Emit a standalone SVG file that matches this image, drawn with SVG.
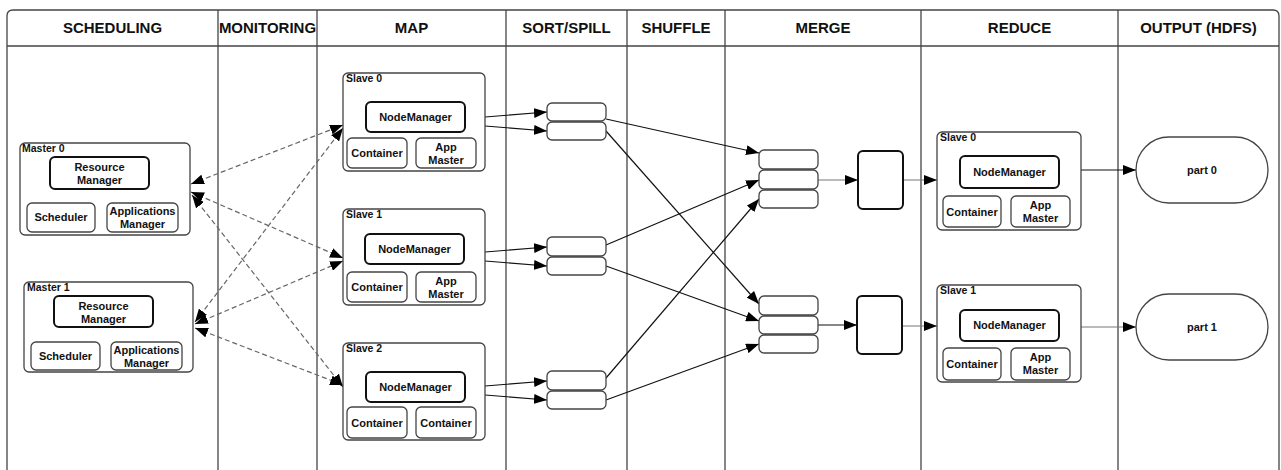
<svg xmlns="http://www.w3.org/2000/svg" width="1281" height="470" viewBox="0 0 1281 470">
  <style>
    .frame { fill: none; stroke: #444; stroke-width: 1.3; }
    .hdr { font-family: "Liberation Sans", Arial, sans-serif; font-weight: bold; font-size: 15px; fill: #111; text-anchor: middle; }
    .box { fill: #fff; stroke: #444; stroke-width: 1.3; }
    .inner { fill: #fff; stroke: #444; stroke-width: 1.3; }
    .strong { fill: #fff; stroke: #111; stroke-width: 2; }
    .lbl { font-family: "Liberation Sans", Arial, sans-serif; font-weight: bold; font-size: 11px; fill: #111; text-anchor: middle; }
    .cap { font-family: "Liberation Sans", Arial, sans-serif; font-weight: bold; font-size: 10.5px; fill: #111; }
    .dash { fill: none; stroke: #666; stroke-width: 1.2; stroke-dasharray: 5 3; marker-start: url(#arrow); marker-end: url(#arrow); }
    .solid { fill: none; stroke: #111; stroke-width: 1.2; marker-end: url(#arrow); }
    .thin { fill: none; stroke: #777; stroke-width: 1; marker-end: url(#arrow); }
  </style>
  <defs>
    <marker id="arrow" viewBox="0 0 13 10" refX="13" refY="5" markerWidth="13" markerHeight="10" markerUnits="userSpaceOnUse" orient="auto-start-reverse">
      <path d="M0,0 L13,5 L0,10 z" fill="#000"/>
    </marker>
  </defs>

  <rect width="1281" height="470" fill="#fff"/>

  <!-- swimlane frame and headers -->
  <g id="lanes">
    <path class="frame" d="M7,470 V16 Q7,10 13,10 H1273 Q1279,10 1279,16 V470"/>
    <line class="frame" x1="7" y1="46" x2="1279" y2="46"/>
    <line class="frame" x1="218" y1="10" x2="218" y2="470"/>
    <line class="frame" x1="317" y1="10" x2="317" y2="470"/>
    <line class="frame" x1="506" y1="10" x2="506" y2="470"/>
    <line class="frame" x1="627" y1="10" x2="627" y2="470"/>
    <line class="frame" x1="725" y1="10" x2="725" y2="470"/>
    <line class="frame" x1="921" y1="10" x2="921" y2="470"/>
    <line class="frame" x1="1118" y1="10" x2="1118" y2="470"/>
    <text class="hdr" x="112.5" y="33">SCHEDULING</text>
    <text class="hdr" x="267.5" y="33">MONITORING</text>
    <text class="hdr" x="411.5" y="33">MAP</text>
    <text class="hdr" x="566.5" y="33">SORT/SPILL</text>
    <text class="hdr" x="676" y="33">SHUFFLE</text>
    <text class="hdr" x="823" y="33">MERGE</text>
    <text class="hdr" x="1019.5" y="33">REDUCE</text>
    <text class="hdr" x="1198.5" y="33">OUTPUT (HDFS)</text>
  </g>

  <!-- connectors -->
  <g id="connectors">
    <!-- masters <-> map slaves -->
    <line class="dash" x1="191" y1="184" x2="343" y2="125"/>
    <line class="dash" x1="191" y1="192" x2="343" y2="258"/>
    <line class="dash" x1="192" y1="195" x2="343" y2="387"/>
    <line class="dash" x1="195" y1="322" x2="343" y2="128"/>
    <line class="dash" x1="195" y1="324" x2="343" y2="261"/>
    <line class="dash" x1="195" y1="328" x2="343" y2="385"/>
    <!-- map -> sort/spill -->
    <line class="solid" x1="485" y1="117" x2="547" y2="112"/>
    <line class="solid" x1="485" y1="126" x2="547" y2="131"/>
    <line class="solid" x1="485" y1="252" x2="547" y2="247"/>
    <line class="solid" x1="485" y1="261" x2="547" y2="266"/>
    <line class="solid" x1="485" y1="386" x2="547" y2="381"/>
    <line class="solid" x1="485" y1="395" x2="547" y2="400"/>
    <!-- shuffle to merge -->
    <line class="solid" x1="606" y1="119" x2="759" y2="153"/>
    <line class="solid" x1="606" y1="131" x2="759" y2="304"/>
    <line class="solid" x1="606" y1="245" x2="759" y2="180"/>
    <line class="solid" x1="606" y1="266" x2="759" y2="321"/>
    <line class="solid" x1="606" y1="378" x2="759" y2="199"/>
    <line class="solid" x1="606" y1="400" x2="759" y2="344"/>
    <!-- merge -> sort buffers -> reduce -->
    <line class="thin" x1="818" y1="180" x2="858" y2="180"/>
    <line class="thin" x1="903" y1="180" x2="937" y2="180"/>
    <line class="solid" x1="818" y1="325" x2="857" y2="325"/>
    <line class="thin" x1="902" y1="326" x2="937" y2="326"/>
    <!-- reduce -> output -->
    <line class="solid" x1="1081" y1="170" x2="1136" y2="170"/>
    <line class="thin" x1="1081" y1="327" x2="1136" y2="327"/>
  </g>

  <!-- scheduling -->
  <g id="master0">
    <rect class="box" x="20" y="143" width="170" height="92" rx="5"/>
    <text class="cap" x="22" y="152">Master 0</text>
    <rect class="strong" x="50" y="157" width="99" height="32" rx="5"/>
    <text class="lbl" x="99.5" y="171">Resource</text>
    <text class="lbl" x="99.5" y="184">Manager</text>
    <rect class="inner" x="27" y="203" width="68" height="29" rx="5"/>
    <text class="lbl" x="61" y="221">Scheduler</text>
    <rect class="inner" x="107" y="203" width="71" height="29" rx="5"/>
    <text class="lbl" x="142.5" y="215">Applications</text>
    <text class="lbl" x="142.5" y="228">Manager</text>
  </g>
  <g id="master1">
    <rect class="box" x="24" y="282" width="169" height="90" rx="5"/>
    <text class="cap" x="27" y="291">Master 1</text>
    <rect class="strong" x="54" y="296" width="99" height="31" rx="5"/>
    <text class="lbl" x="103.5" y="310">Resource</text>
    <text class="lbl" x="103.5" y="323">Manager</text>
    <rect class="inner" x="31" y="342" width="69" height="28" rx="5"/>
    <text class="lbl" x="65.5" y="360">Scheduler</text>
    <rect class="inner" x="111" y="342" width="71" height="28" rx="5"/>
    <text class="lbl" x="146.5" y="354">Applications</text>
    <text class="lbl" x="146.5" y="367">Manager</text>
  </g>

  <!-- map -->
  <g id="map-slave0">
    <rect class="box" x="343" y="73" width="142" height="98" rx="5"/>
    <text class="cap" x="346" y="82">Slave 0</text>
    <rect class="strong" x="366" y="102" width="99" height="30" rx="5"/>
    <text class="lbl" x="415.5" y="121">NodeManager</text>
    <rect class="inner" x="347" y="138" width="60" height="30" rx="5"/>
    <text class="lbl" x="377" y="157">Container</text>
    <rect class="inner" x="416" y="138" width="60" height="30" rx="5"/>
    <text class="lbl" x="446" y="151">App</text>
    <text class="lbl" x="446" y="164">Master</text>
  </g>
  <g id="map-slave1">
    <rect class="box" x="343" y="209" width="142" height="96" rx="5"/>
    <text class="cap" x="346" y="218">Slave 1</text>
    <rect class="strong" x="365" y="234" width="99" height="30" rx="5"/>
    <text class="lbl" x="414.5" y="253">NodeManager</text>
    <rect class="inner" x="347" y="272" width="60" height="30" rx="5"/>
    <text class="lbl" x="377" y="291">Container</text>
    <rect class="inner" x="416" y="272" width="60" height="30" rx="5"/>
    <text class="lbl" x="446" y="285">App</text>
    <text class="lbl" x="446" y="298">Master</text>
  </g>
  <g id="map-slave2">
    <rect class="box" x="343" y="343" width="142" height="97" rx="5"/>
    <text class="cap" x="346" y="352">Slave 2</text>
    <rect class="strong" x="366" y="372" width="99" height="30" rx="5"/>
    <text class="lbl" x="415.5" y="391">NodeManager</text>
    <rect class="inner" x="347" y="407" width="60" height="31" rx="5"/>
    <text class="lbl" x="377" y="427">Container</text>
    <rect class="inner" x="416" y="407" width="60" height="31" rx="5"/>
    <text class="lbl" x="446" y="427">Container</text>
  </g>

  <!-- sort/spill buffers -->
  <g id="spill0">
    <rect class="inner" x="547" y="103" width="59" height="18" rx="5"/>
    <rect class="inner" x="547" y="122" width="59" height="18" rx="5"/>
  </g>
  <g id="spill1">
    <rect class="inner" x="547" y="237" width="59" height="19" rx="5"/>
    <rect class="inner" x="547" y="257" width="59" height="18" rx="5"/>
  </g>
  <g id="spill2">
    <rect class="inner" x="547" y="371" width="59" height="19" rx="5"/>
    <rect class="inner" x="547" y="391" width="59" height="18" rx="5"/>
  </g>

  <!-- merge -->
  <g id="merge0">
    <rect class="inner" x="759" y="150" width="59" height="19" rx="5"/>
    <rect class="inner" x="759" y="170" width="59" height="19" rx="5"/>
    <rect class="inner" x="759" y="190" width="59" height="18" rx="5"/>
  </g>
  <g id="merge1">
    <rect class="inner" x="759" y="296" width="59" height="19" rx="5"/>
    <rect class="inner" x="759" y="316" width="59" height="18" rx="5"/>
    <rect class="inner" x="759" y="335" width="59" height="18" rx="5"/>
  </g>
  <g id="merged0">
    <rect class="strong" x="858" y="151" width="45" height="58" rx="5"/>
  </g>
  <g id="merged1">
    <rect class="strong" x="857" y="296" width="45" height="58" rx="5"/>
  </g>

  <!-- reduce -->
  <g id="reduce-slave0">
    <rect class="box" x="937" y="132" width="144" height="98" rx="5"/>
    <text class="cap" x="940" y="141">Slave 0</text>
    <rect class="strong" x="960" y="156" width="99" height="32" rx="5"/>
    <text class="lbl" x="1009.5" y="176">NodeManager</text>
    <rect class="inner" x="943" y="196" width="58" height="31" rx="5"/>
    <text class="lbl" x="972" y="216">Container</text>
    <rect class="inner" x="1011" y="196" width="59" height="31" rx="5"/>
    <text class="lbl" x="1040.5" y="209">App</text>
    <text class="lbl" x="1040.5" y="222">Master</text>
  </g>
  <g id="reduce-slave1">
    <rect class="box" x="937" y="285" width="144" height="97" rx="5"/>
    <text class="cap" x="940" y="294">Slave 1</text>
    <rect class="strong" x="960" y="310" width="99" height="31" rx="5"/>
    <text class="lbl" x="1009.5" y="329">NodeManager</text>
    <rect class="inner" x="943" y="348" width="58" height="32" rx="5"/>
    <text class="lbl" x="972" y="368">Container</text>
    <rect class="inner" x="1011" y="348" width="59" height="32" rx="5"/>
    <text class="lbl" x="1040.5" y="361">App</text>
    <text class="lbl" x="1040.5" y="374">Master</text>
  </g>

  <!-- output -->
  <g id="part0">
    <rect class="inner" x="1136" y="137" width="132" height="66" rx="33"/>
    <text class="lbl" x="1202" y="174">part 0</text>
  </g>
  <g id="part1">
    <rect class="inner" x="1136" y="294" width="132" height="66" rx="33"/>
    <text class="lbl" x="1202" y="331">part 1</text>
  </g>
</svg>
